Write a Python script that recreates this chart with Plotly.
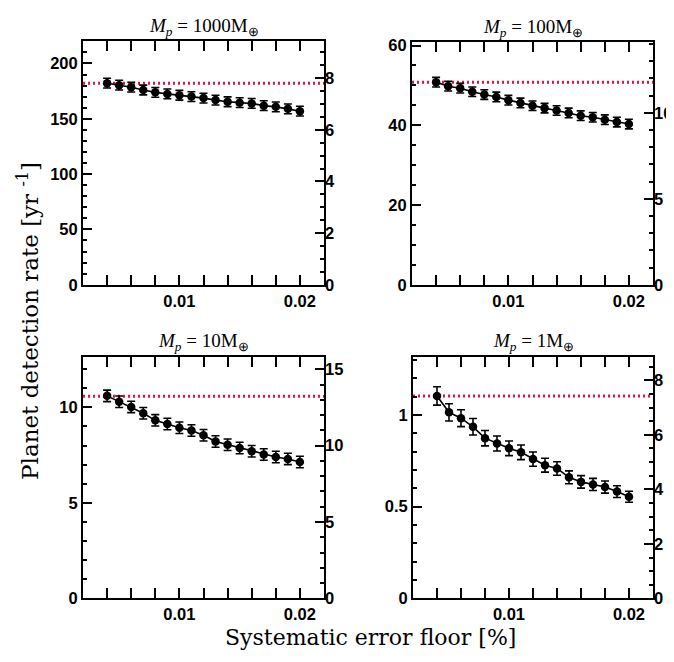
import plotly.graph_objects as go

# ---------------- data ----------------
error_floor = [0.004, 0.005, 0.006, 0.007, 0.008, 0.009, 0.010, 0.011, 0.012,
               0.013, 0.014, 0.015, 0.016, 0.017, 0.018, 0.019, 0.020]

panel_titles = ["<i>M<sub>p</sub></i> = 1000M<sub>⊕</sub>",
                "<i>M<sub>p</sub></i> = 100M<sub>⊕</sub>",
                "<i>M<sub>p</sub></i> = 10M<sub>⊕</sub>",
                "<i>M<sub>p</sub></i> = 1M<sub>⊕</sub>"]

rate_1000 = [182.2, 180.4, 178.6, 176.0, 173.9, 172.5, 171.3, 170.1, 168.7,
             166.9, 165.4, 164.6, 163.9, 161.9, 160.8, 159.0, 156.9]
err_1000 = [4.4] * 17

rate_100 = [50.8, 49.8, 49.3, 48.4, 47.7, 47.1, 46.3, 45.6, 44.9,
            44.3, 43.7, 43.1, 42.4, 42.0, 41.4, 40.8, 40.3]
err_100 = [1.2] * 17

rate_10 = [10.6, 10.29, 10.02, 9.69, 9.32, 9.13, 8.93, 8.79, 8.54,
           8.21, 8.04, 7.87, 7.70, 7.53, 7.40, 7.30, 7.14]
err_10 = [0.3] * 17

rate_1 = [1.103, 1.014, 0.982, 0.935, 0.873, 0.844, 0.818, 0.796, 0.759,
          0.726, 0.708, 0.660, 0.635, 0.621, 0.607, 0.582, 0.554]
err_1 = [0.05, 0.047, 0.046, 0.045, 0.042, 0.041, 0.04, 0.04, 0.039,
         0.038, 0.037, 0.035, 0.034, 0.033, 0.033, 0.032, 0.03]

baseline = [182.2, 50.8, 10.58, 1.103]

x_range = [0.002, 0.022]
left_ranges = [[0, 220], [0, 60.8], [0, 12.63], [0, 1.315]]
left_dtick = [50, 20, 5, 0.5]
left_minor = [10, 5, 1, 0.1]
right_ranges = [[0, 9.43], [0, 14.1], [0, 15.8], [0, 8.85]]
right_dtick = [2, 5, 5, 2]
right_minor = [0.5, 1, 1, 0.5]

rates = [rate_1000, rate_100, rate_10, rate_1]
errs = [err_1000, err_100, err_10, err_1]

# ---------------- layout geometry (pixels) ----------------
W, H = 674, 662
boxes = [(75, 316, 28, 277), (404, 645, 29, 277),
         (75, 316, 351, 598), (405, 645, 351, 598)]

fig = go.Figure()
tickfont = dict(family="Liberation Sans, Arial", size=16.5, color="black", weight="bold")
layout = {}
annotations = []

for i in range(4):
    n = i + 1
    xa = "x" if n == 1 else f"x{n}"
    ya = "y" if n == 1 else f"y{n}"
    yr = f"y{n + 4}"
    x0, x1, y0, y1 = boxes[i]
    dx = [x0 / W, x1 / W]
    dy = [1 - y1 / H, 1 - y0 / H]

    # red dotted reference line
    fig.add_trace(go.Scatter(x=x_range, y=[baseline[i]] * 2, mode="lines",
                             line=dict(color="#e8103c", width=3, dash="2px,3px"),
                             xaxis=xa, yaxis=ya, showlegend=False, hoverinfo="skip"))
    # data
    fig.add_trace(go.Scatter(x=error_floor, y=rates[i], mode="lines+markers",
                             line=dict(color="black", width=1.6),
                             marker=dict(color="black", size=8.5),
                             error_y=dict(type="data", array=errs[i], color="black",
                                          thickness=1.6, width=4),
                             xaxis=xa, yaxis=ya, showlegend=False))
    # invisible trace for right axis
    fig.add_trace(go.Scatter(x=[x_range[0]], y=[right_ranges[i][0]], mode="markers",
                             marker=dict(opacity=0), xaxis=xa, yaxis=yr,
                             showlegend=False, hoverinfo="skip"))

    layout["xaxis" if n == 1 else f"xaxis{n}"] = dict(
        domain=dx, anchor=ya, range=x_range, tickvals=[0.01, 0.02],
        ticktext=["0.01", "0.02"], ticks="inside", ticklen=10, tickwidth=1.5,
        tickcolor="black", minor=dict(dtick=0.002, tick0=0, ticks="inside",
                                      ticklen=4, tickwidth=1.5, tickcolor="black"),
        showline=True, linewidth=2, linecolor="black", mirror="allticks",
        showgrid=False, zeroline=False, tickfont=tickfont)
    layout["yaxis" if n == 1 else f"yaxis{n}"] = dict(
        domain=dy, anchor=xa, range=left_ranges[i], dtick=left_dtick[i], tick0=0,
        ticks="inside", ticklen=9, tickwidth=1.5, tickcolor="black",
        minor=dict(dtick=left_minor[i], tick0=0, ticks="inside", ticklen=4,
                   tickwidth=1.5, tickcolor="black"),
        showline=True, linewidth=2, linecolor="black", mirror=True,
        showgrid=False, zeroline=False, tickfont=tickfont)
    layout[f"yaxis{n + 4}"] = dict(
        overlaying=ya, side="right", anchor=xa, range=right_ranges[i],
        dtick=right_dtick[i], tick0=0, ticks="inside", ticklen=9, tickwidth=1.5,
        tickcolor="black",
        minor=dict(dtick=right_minor[i], tick0=0, ticks="inside", ticklen=4,
                   tickwidth=1.5, tickcolor="black"),
        showline=False, showgrid=False, zeroline=False, tickfont=tickfont)

    annotations.append(dict(text=panel_titles[i], x=(x0 + x1) / 2 / W,
                            y=1 - (y0 - 15) / H, xref="paper", yref="paper",
                            showarrow=False, xanchor="center", yanchor="middle",
                            font=dict(family="Liberation Serif", size=19, color="black")))

annotations.append(dict(text="Systematic error floor [%]", x=362 / W, y=1 - 638 / H,
                        xref="paper", yref="paper", showarrow=False,
                        xanchor="center", yanchor="middle",
                        font=dict(family="DejaVu Serif", size=22, color="black")))
annotations.append(dict(text="Planet detection rate [yr <sup>-1</sup>]", x=20 / W,
                        y=1 - 314 / H, xref="paper", yref="paper", showarrow=False,
                        textangle=-90, xanchor="center", yanchor="middle",
                        font=dict(family="DejaVu Serif", size=23, color="black")))

fig.update_layout(width=W, height=H, margin=dict(l=0, r=0, t=0, b=0),
                  paper_bgcolor="white", plot_bgcolor="white",
                  annotations=annotations, **layout)
fig.write_html("out.html")
